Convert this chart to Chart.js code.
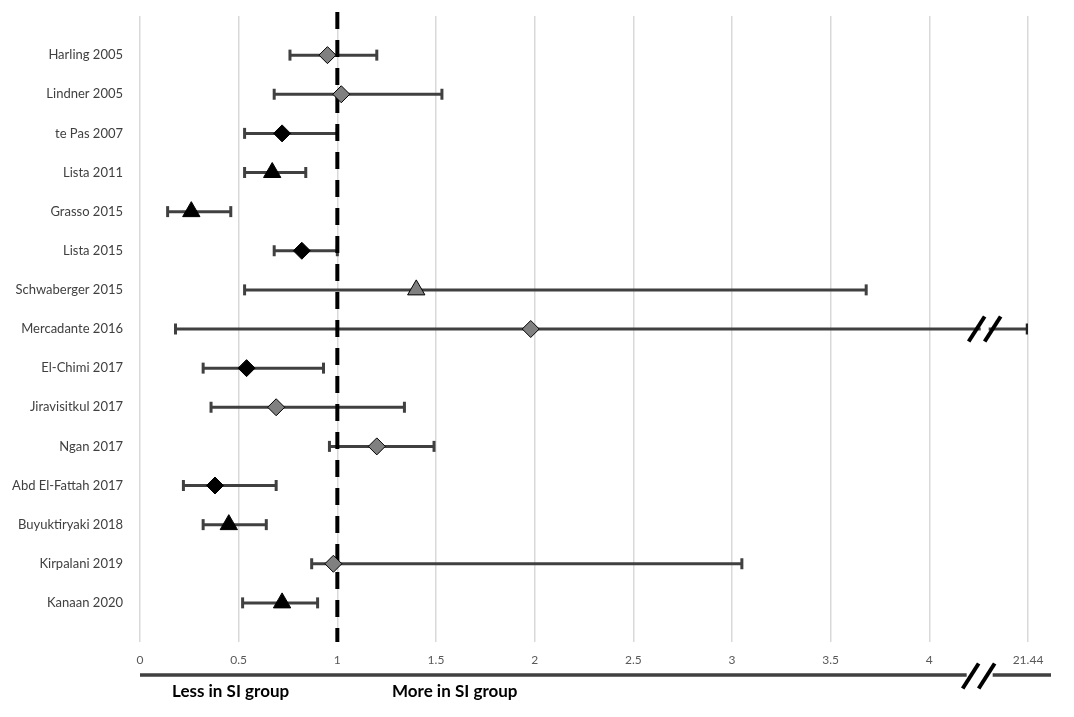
<!DOCTYPE html>
<html>
<head>
<meta charset="utf-8">
<script src="https://cdn.jsdelivr.net/npm/chart.js@4.4.0/dist/chart.umd.min.js"></script>
<style>
  html, body { margin: 0; padding: 0; background: #fff; }
  #wrap { position: relative; width: 1074px; height: 717px; }
  .side { position: absolute; top: 680px; font: bold 17px Lato, sans-serif; line-height: 22px; color: #000; white-space: nowrap; }
</style>
</head>
<body>
<div id="wrap">
  <canvas id="chart" width="1074" height="717"></canvas>
  <div class="side" style="left:172px">Less in SI group</div>
  <div class="side" style="left:392px">More in SI group</div>
</div>
<script>
const studies = [
  "Harling 2005", "Lindner 2005", "te Pas 2007", "Lista 2011", "Grasso 2015",
  "Lista 2015", "Schwaberger 2015", "Mercadante 2016", "El-Chimi 2017",
  "Jiravisitkul 2017", "Ngan 2017", "Abd El-Fattah 2017", "Buyuktiryaki 2018",
  "Kirpalani 2019", "Kanaan 2020"
];
const estimate = [0.95, 1.02, 0.72, 0.67, 0.26, 0.82, 1.40, 1.98, 0.54, 0.69, 1.20, 0.38, 0.45, 0.98, 0.72];
const lower    = [0.76, 0.68, 0.53, 0.53, 0.14, 0.68, 0.53, 0.18, 0.32, 0.36, 0.96, 0.22, 0.32, 0.87, 0.52];
const upper    = [1.20, 1.53, 1.00, 0.84, 0.46, 1.00, 3.68, 21.44, 0.93, 1.34, 1.49, 0.69, 0.64, 3.05, 0.90];
const markerShape = ["rectRot", "rectRot", "rectRot", "triangle", "triangle", "rectRot", "triangle", "rectRot",
                     "rectRot", "rectRot", "rectRot", "rectRot", "triangle", "rectRot", "triangle"];
const markerFill  = ["#808080", "#808080", "#000000", "#000000", "#000000", "#000000", "#808080", "#808080",
                     "#000000", "#808080", "#808080", "#000000", "#000000", "#808080", "#000000"];
const xTickLabels = ["0", "0.5", "1", "1.5", "2", "2.5", "3", "3.5", "4", "21.44"];

// broken axis: anything past the break sits on the last tick
const breakAt = 4.25;
const axisMax = 4.5;
const onAxis = v => (v > breakAt ? axisMax : v);

const font = "Lato, 'Open Sans', sans-serif";

const barSets = studies.map((s, i) => ({
  label: s,
  data: [{ x: onAxis(lower[i]), y: i + 1 }, { x: onAxis(upper[i]), y: i + 1 }],
  showLine: true,
  borderColor: "#404040",
  borderWidth: 3,
  pointStyle: "line",
  rotation: 90,
  pointRadius: 5.5,
  pointBorderWidth: [3, upper[i] > breakAt ? 4.5 : 3],
  pointBorderColor: ["#404040", upper[i] > breakAt ? "#222" : "#404040"],
  order: 2
}));

const nullLine = {
  label: "no effect",
  data: [{ x: 1, y: -0.1 }, { x: 1, y: 16 }],
  showLine: true,
  clip: false,
  borderColor: "#000",
  borderWidth: 4,
  borderDash: [17, 11],
  pointRadius: 0,
  order: 1
};

const markers = {
  label: "estimate",
  data: studies.map((s, i) => ({ x: estimate[i], y: i + 1 })),
  showLine: false,
  pointStyle: markerShape,
  pointRadius: markerShape.map(m => (m === "triangle" ? 10 : 8.5)),
  pointBackgroundColor: markerFill,
  pointBorderColor: "#000",
  pointBorderWidth: 1,
  order: 0
};

function slashes(ctx, cx, cy, h) {
  ctx.save();
  ctx.fillStyle = "#fff";
  ctx.fillRect(cx - 4, cy - 4, 8, 8);
  ctx.strokeStyle = "#000";
  ctx.lineWidth = 4;
  [-8, 8].forEach(dx => {
    ctx.beginPath();
    ctx.moveTo(cx + dx - 8, cy + h);
    ctx.lineTo(cx + dx + 8, cy - h);
    ctx.stroke();
  });
  ctx.restore();
}

const axisBreak = {
  id: "axisBreak",
  afterDatasetsDraw(chart) {
    const { ctx, scales: { x, y } } = chart;
    const bx = x.getPixelForValue(breakAt) + 6;
    upper.forEach((u, i) => {
      if (u > breakAt) slashes(ctx, bx, y.getPixelForValue(i + 1), 12.5);
    });
    // direction line under the ticks
    const ly = 675;
    const mx = x.getPixelForValue(breakAt);
    ctx.save();
    ctx.strokeStyle = "#404040";
    ctx.lineWidth = 3.5;
    ctx.beginPath();
    ctx.moveTo(chart.chartArea.left, ly);
    ctx.lineTo(mx - 12, ly);
    ctx.moveTo(mx + 14, ly);
    ctx.lineTo(1051, ly);
    ctx.stroke();
    ctx.restore();
    slashes(ctx, mx, ly + 1, 12.5);
  }
};

new Chart(document.getElementById("chart"), {
  type: "line",
  data: { datasets: [markers, nullLine, ...barSets] },
  options: {
    responsive: false,
    animation: false,
    events: [],
    layout: { padding: { top: 16, right: 46, left: 0, bottom: 0 } },
    plugins: { legend: { display: false }, tooltip: { enabled: false } },
    scales: {
      x: {
        type: "linear",
        min: 0,
        max: axisMax,
        afterFit: s => { s.height = 75; },
        ticks: {
          stepSize: 0.5,
          autoSkip: false,
          maxRotation: 0,
          padding: 11,
          color: "#595959",
          font: { family: font, size: 12 },
          callback: (v, i) => xTickLabels[i]
        },
        grid: { color: "#d9d9d9", lineWidth: 1.5, drawTicks: false },
        border: { display: false }
      },
      y: {
        type: "linear",
        min: 0,
        max: 16,
        reverse: true,
        afterFit: s => { s.width = 140; s.paddingTop = 0; s.paddingBottom = 0; },
        ticks: {
          stepSize: 1,
          autoSkip: false,
          padding: 9,
          color: "#404040",
          font: { family: font, size: 13 },
          callback: v => studies[v - 1] || ""
        },
        grid: { display: false },
        border: { display: false }
      }
    }
  },
  plugins: [axisBreak]
});
</script>
</body>
</html>
